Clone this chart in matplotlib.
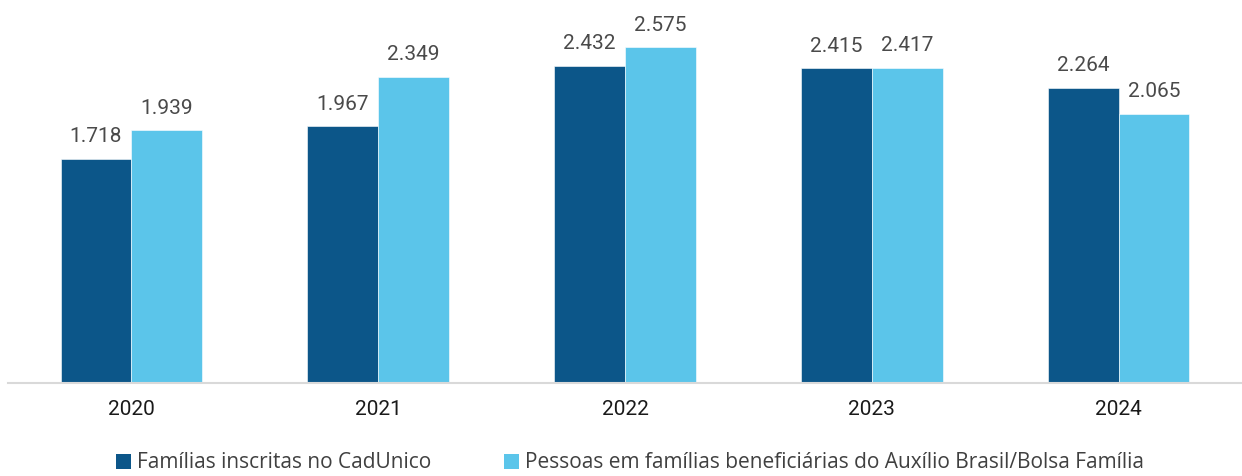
import matplotlib
matplotlib.use("Agg")
import matplotlib.pyplot as plt
from matplotlib.patches import Patch
import numpy as np

years = ["2020", "2021", "2022", "2023", "2024"]
familias = [1.718, 1.967, 2.432, 2.415, 2.264]
pessoas = [1.939, 2.349, 2.575, 2.417, 2.065]
series_names = ["Famílias inscritas no CadUnico",
                "Pessoas em famílias beneficiárias do Auxílio Brasil/Bolsa Família"]

dark = "#0C5689"
light = "#5BC5EA"

W, H = 1242, 476
fig = plt.figure(figsize=(W / 100, H / 100), dpi=100)
ax = fig.add_axes([8 / W, 93 / H, (W - 8) / W, (H - 93) / H])

x = np.arange(len(years))
bw = 0.287
b1 = ax.bar(x - bw / 2, familias, bw, color=dark, edgecolor="white", linewidth=0.4)
b2 = ax.bar(x + bw / 2, pessoas, bw, color=light, edgecolor="white", linewidth=0.4)

def fmt(v):
    return f"{v:.3f}"

for bars, vals in ((b1, familias), (b2, pessoas)):
    for rect, v in zip(bars, vals):
        ax.annotate(fmt(v), (rect.get_x() + rect.get_width() / 2, rect.get_height()),
                    xytext=(0, 9), textcoords="offset points", ha="center", va="bottom",
                    fontsize=15, color="#4a4a4a", family="Roboto")

ax.set_xlim(-0.5, 4.5)
ax.set_ylim(0, 2.937)
ax.set_yticks([])
for s in ("top", "right", "left"):
    ax.spines[s].set_visible(False)
ax.spines["bottom"].set_color("#D9D9D9")
ax.spines["bottom"].set_linewidth(1.5)
ax.set_xticks(x)
ax.set_xticklabels(years, fontsize=15, family="Roboto", color="#1a1a1a")
ax.tick_params(axis="x", length=0, pad=12)

handles = [Patch(facecolor=dark), Patch(facecolor=light)]
fig.legend(handles, series_names, loc="center", ncol=2, frameon=False,
           bbox_to_anchor=(630 / W, 1 - 463 / H),
           prop={"family": "Open Sans", "size": 15},
           handlelength=0.7, handleheight=0.7, handletextpad=0.3,
           columnspacing=3.5, labelcolor="#404040")

fig.savefig("out.png", dpi=100)
